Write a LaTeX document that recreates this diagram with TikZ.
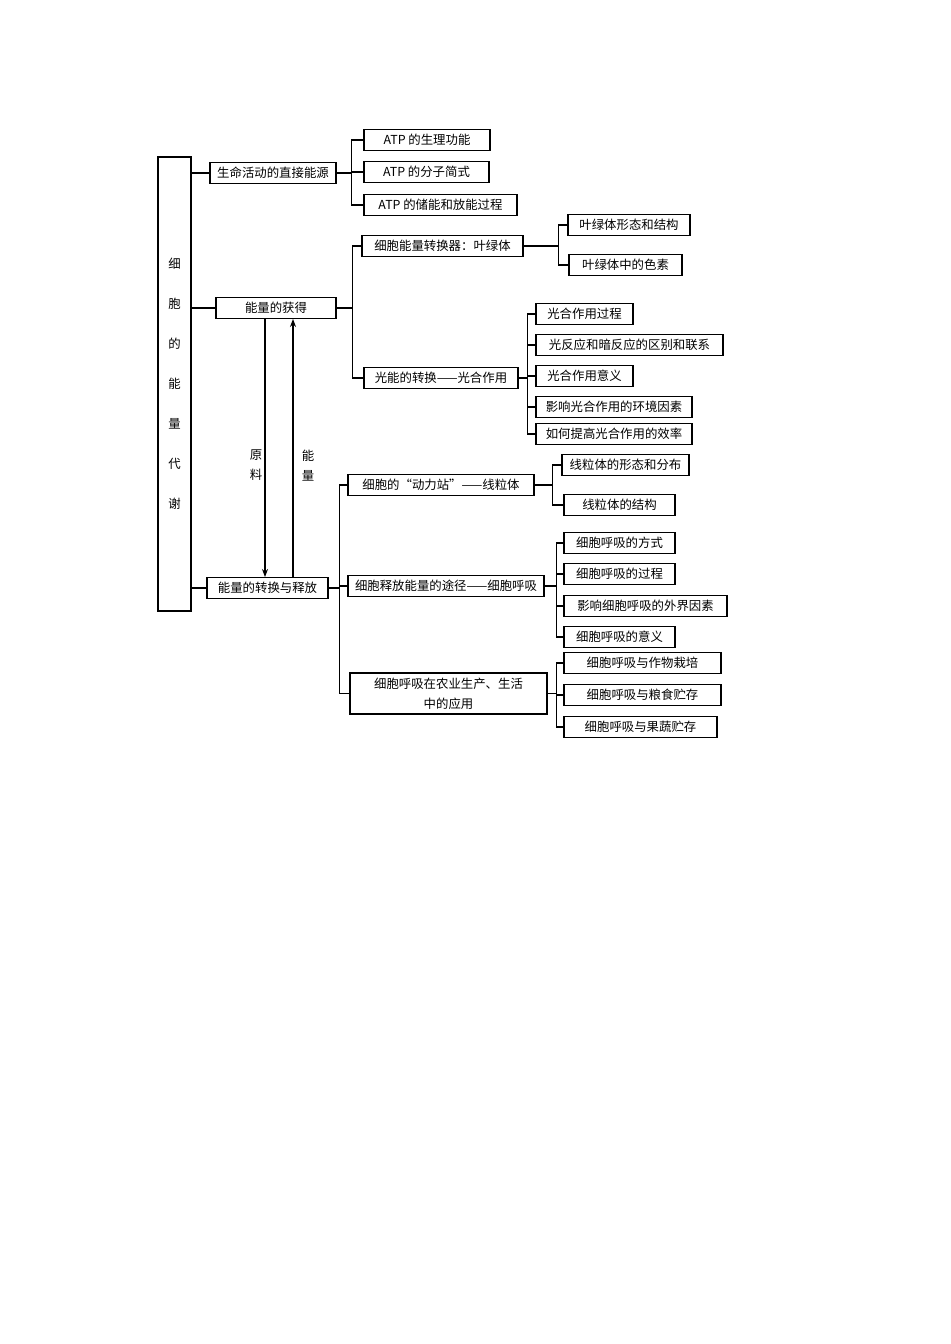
\documentclass[tikz,border=0pt]{standalone}
\usepackage{fontspec}
\newfontfamily\cjk{Noto Sans CJK SC}
\usetikzlibrary{positioning,arrows.meta}
\tikzset{
  box/.style={draw, thick, rectangle, inner sep=0pt, minimum height=10.5pt},
  wire/.style={semithick},
}
\begin{document}
\begin{tikzpicture}[x=0.5pt, y=-0.5pt, every node/.style={font=\cjk\fontsize{6.2}{7.5}\selectfont}]
  \useasboundingbox (0,0) rectangle (950,1344);
  % Root
  \node[box, minimum width=16.5pt, minimum height=227pt, align=center, font=\cjk\fontsize{6.2}{20}\selectfont] (root) at (174.5,384) {细\\胞\\的\\能\\量\\代\\谢};
  % Level 1
  \node[box, minimum width=63pt] (src) at (273,173) {生命活动的直接能源};
  \node[box, minimum width=60pt] (gain) at (276,308) {能量的获得};
  \node[box, minimum width=60.5pt] (rel) at (267.5,588) {能量的转换与释放};
  % ATP
  \node[box, minimum width=63pt] (atpA) at (427,140) {ATP 的生理功能};
  \node[box, minimum width=62.5pt] (atpB) at (426.5,172) {ATP 的分子简式};
  \node[box, minimum width=76.5pt] (atpC) at (440.5,205) {ATP 的储能和放能过程};
  % Chloroplast
  \node[box, minimum width=80.5pt] (chl) at (442.5,246) {细胞能量转换器：叶绿体};
  \node[box, minimum width=61pt] (chlA) at (629,225) {叶绿体形态和结构};
  \node[box, minimum width=56.5pt] (chlB) at (625.5,265) {叶绿体中的色素};
  \node[box, minimum width=77pt] (pho) at (441,378) {光能的转换——光合作用};
  \node[box, minimum width=48.5pt] (phoA) at (584.5,314) {光合作用过程};
  \node[box, minimum width=93.5pt] (phoB) at (629.5,345) {光反应和暗反应的区别和联系};
  \node[box, minimum width=48.5pt] (phoC) at (584.5,376) {光合作用意义};
  \node[box, minimum width=78pt] (phoD) at (614,407) {影响光合作用的环境因素};
  \node[box, minimum width=78pt] (phoE) at (614,434) {如何提高光合作用的效率};
  % Mitochondria
  \node[box, minimum width=93pt] (mit) at (441,485) {细胞的“动力站”——线粒体};
  \node[box, minimum width=63.5pt] (mitA) at (625.5,465) {线粒体的形态和分布};
  \node[box, minimum width=55.5pt] (mitB) at (619.5,505) {线粒体的结构};
  \node[box, minimum width=98pt] (res) at (446,586) {细胞释放能量的途径——细胞呼吸};
  \node[box, minimum width=55.5pt] (resA) at (619.5,543) {细胞呼吸的方式};
  \node[box, minimum width=55.5pt] (resB) at (619.5,574) {细胞呼吸的过程};
  \node[box, minimum width=81.5pt] (resC) at (645.5,606) {影响细胞呼吸的外界因素};
  \node[box, minimum width=55.5pt] (resD) at (619.5,637) {细胞呼吸的意义};
  \node[box, minimum width=98.5pt, minimum height=20.5pt, align=center, font=\cjk\fontsize{6.2}{10}\selectfont] (agr) at (448.5,693.5) {细胞呼吸在农业生产、生活\\中的应用};
  \node[box, minimum width=78.5pt] (agrA) at (642.5,663) {细胞呼吸与作物栽培};
  \node[box, minimum width=78.5pt] (agrB) at (642.5,695) {细胞呼吸与粮食贮存};
  \node[box, minimum width=76.5pt] (agrC) at (640.5,727) {细胞呼吸与果蔬贮存};

  % Wires
  \foreach \c in {src,gain,rel} \draw[wire] (root.east |- \c.west) -- (\c.west);
  \foreach \c in {atpA,atpB,atpC} \draw[wire] (src.east) -- +(15,0) |- (\c.west);
  \foreach \c in {chl,pho} \draw[wire] (gain.east) -- +(16,0) |- (\c.west);
  \foreach \c in {chlA,chlB} \draw[wire] (chl.east) -- +(35,0) |- (\c.west);
  \foreach \c in {phoA,phoB,phoC,phoD,phoE} \draw[wire] (pho.east) -- +(9,0) |- (\c.west);
  \foreach \c in {mit,res,agr} \draw[wire] (rel.east) -- +(11,0) |- (\c.west);
  \foreach \c in {mitA,mitB} \draw[wire] (mit.east) -- +(18,0) |- (\c.west);
  \foreach \c in {resA,resB,resC,resD} \draw[wire] (res.east) -- +(12,0) |- (\c.west);
  \foreach \c in {agrA,agrB,agrC} \draw[wire] (agr.east) -- +(9,0) |- (\c.west);

  % Exchange between the two processes
  \coordinate (rawTop) at (265,319);
  \coordinate (rawBot) at (265,577);
  \coordinate (engBot) at (293,577);
  \coordinate (engTop) at (293,319);
  \draw[wire, -{Stealth[length=4pt]}] (rawTop) -- (rawBot);
  \draw[wire, -{Stealth[length=4pt]}] (engBot) -- (engTop);
  \node[align=center, font=\cjk\fontsize{6.2}{10}\selectfont] (raw) at (256,465) {原\\料};
  \node[align=center, font=\cjk\fontsize{6.2}{10}\selectfont] (eng) at (308,466) {能\\量};
\end{tikzpicture}
\end{document}
